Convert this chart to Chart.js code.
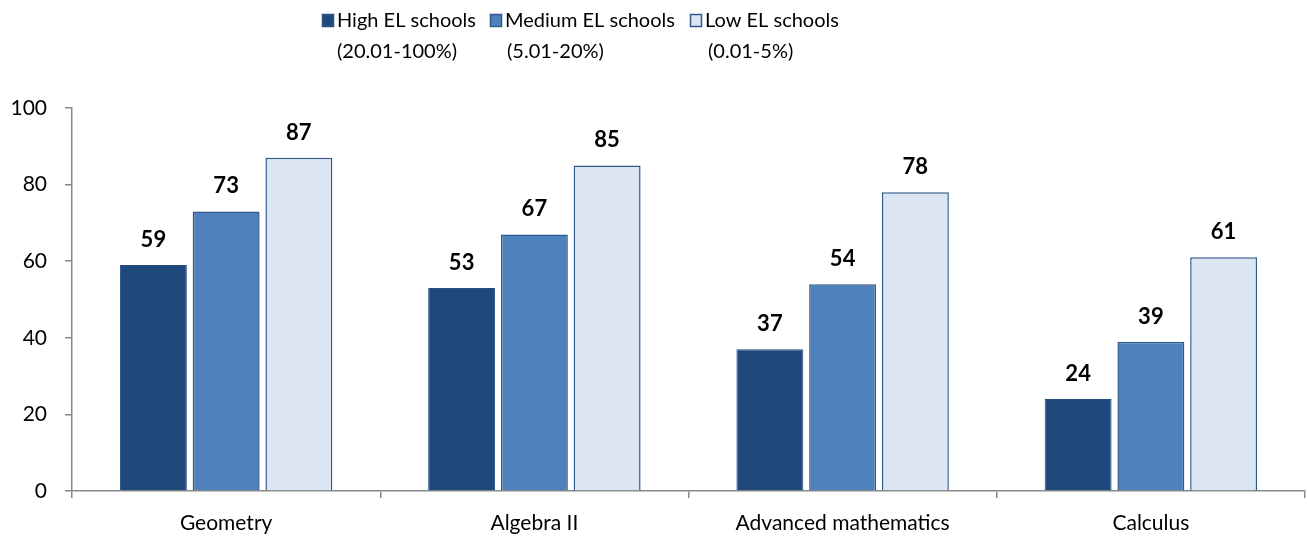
<!DOCTYPE html>
<html>
<head>
<meta charset="utf-8">
<script src="https://cdn.jsdelivr.net/npm/chart.js@4/dist/chart.umd.min.js"></script>
<style>
  html, body { margin: 0; padding: 0; background: #ffffff; }
  #wrap { width: 1307px; height: 542px; position: relative; }
</style>
</head>
<body>
<div id="wrap"><canvas id="chart" width="1307" height="542"></canvas></div>
<script>
// Course categories and the share of schools offering each course, by EL enrollment level
const categories = ['Geometry', 'Algebra II', 'Advanced mathematics', 'Calculus'];
const highEL = [59, 53, 37, 24];
const mediumEL = [73, 67, 54, 39];
const lowEL = [87, 85, 78, 61];
const yTicks = [0, 20, 40, 60, 80, 100];

const seriesNames = [
  ['High EL schools', '(20.01-100%)'],
  ['Medium EL schools', '(5.01-20%)'],
  ['Low EL schools', '(0.01-5%)']
];

const FONT = 'Lato, "Open Sans", sans-serif';
const AXIS_GREY = '#898989';

const fills = ['#1F497D', '#4F81BD', '#DCE6F2'];
const borders = ['#2A5080', '#2F5A8C', '#2F5A8C'];

// Two-line legend drawn across the top of the canvas
const legendPlugin = {
  id: 'twoLineLegend',
  afterDraw(chart) {
    const ctx = chart.ctx;
    const items = [
      { box: 322, text: 337, sub: 337 },
      { box: 490, text: 505, sub: 507 },
      { box: 690, text: 705, sub: 708 }
    ];
    ctx.save();
    ctx.font = '20px ' + FONT;
    ctx.textBaseline = 'middle';
    ctx.textAlign = 'left';
    items.forEach((it, i) => {
      ctx.fillStyle = fills[i];
      ctx.fillRect(it.box, 14, 12, 13);
      ctx.strokeStyle = borders[i];
      ctx.lineWidth = 1.5;
      ctx.strokeRect(it.box + 0.5, 14.5, 11, 12);
      ctx.fillStyle = '#000000';
      ctx.fillText(seriesNames[i][0], it.text, 21);
      ctx.fillText(seriesNames[i][1], it.sub, 52);
    });
    ctx.restore();
  }
};

// Bold value labels above each bar
const valueLabels = {
  id: 'valueLabels',
  afterDatasetsDraw(chart) {
    const ctx = chart.ctx;
    ctx.save();
    ctx.font = 'bold 22px ' + FONT;
    ctx.fillStyle = '#000000';
    ctx.textAlign = 'center';
    ctx.textBaseline = 'alphabetic';
    chart.data.datasets.forEach((ds, di) => {
      chart.getDatasetMeta(di).data.forEach((bar, i) => {
        ctx.fillText(String(ds.data[i]), bar.x, bar.y - 18);
      });
    });
    ctx.restore();
  }
};

new Chart(document.getElementById('chart'), {
  type: 'bar',
  data: {
    labels: categories,
    datasets: [
      { label: seriesNames[0].join(' '), data: highEL, backgroundColor: fills[0], borderColor: borders[0], borderWidth: 1 },
      { label: seriesNames[1].join(' '), data: mediumEL, backgroundColor: fills[1], borderColor: borders[1], borderWidth: 1.5 },
      { label: seriesNames[2].join(' '), data: lowEL, backgroundColor: fills[2], borderColor: borders[2], borderWidth: 1.5 }
    ]
  },
  options: {
    responsive: false,
    animation: false,
    devicePixelRatio: 1,
    categoryPercentage: 0.708,
    barPercentage: 0.92,
    layout: { padding: { top: 108, right: 2, left: 0, bottom: 0 } },
    plugins: {
      legend: { display: false },
      tooltip: { enabled: false }
    },
    scales: {
      x: {
        offset: true,
        grid: {
          offset: true,
          drawOnChartArea: false,
          drawTicks: true,
          tickLength: 7,
          color: AXIS_GREY,
          lineWidth: 1.5
        },
        border: { color: AXIS_GREY, width: 1.5 },
        ticks: { font: { family: FONT, size: 21 }, color: '#000000', padding: 13, maxRotation: 0 },
        afterFit(scale) { scale.height = 51; }
      },
      y: {
        min: 0,
        max: 100,
        afterBuildTicks(scale) { scale.ticks = yTicks.map(v => ({ value: v })); },
        grid: {
          drawOnChartArea: false,
          drawTicks: true,
          tickLength: 7,
          color: AXIS_GREY,
          lineWidth: 1.5
        },
        border: { color: AXIS_GREY, width: 1.5 },
        ticks: { font: { family: FONT, size: 21 }, color: '#000000', padding: 18 },
        afterFit(scale) { scale.width = 72; }
      }
    }
  },
  plugins: [legendPlugin, valueLabels]
});
</script>
</body>
</html>
